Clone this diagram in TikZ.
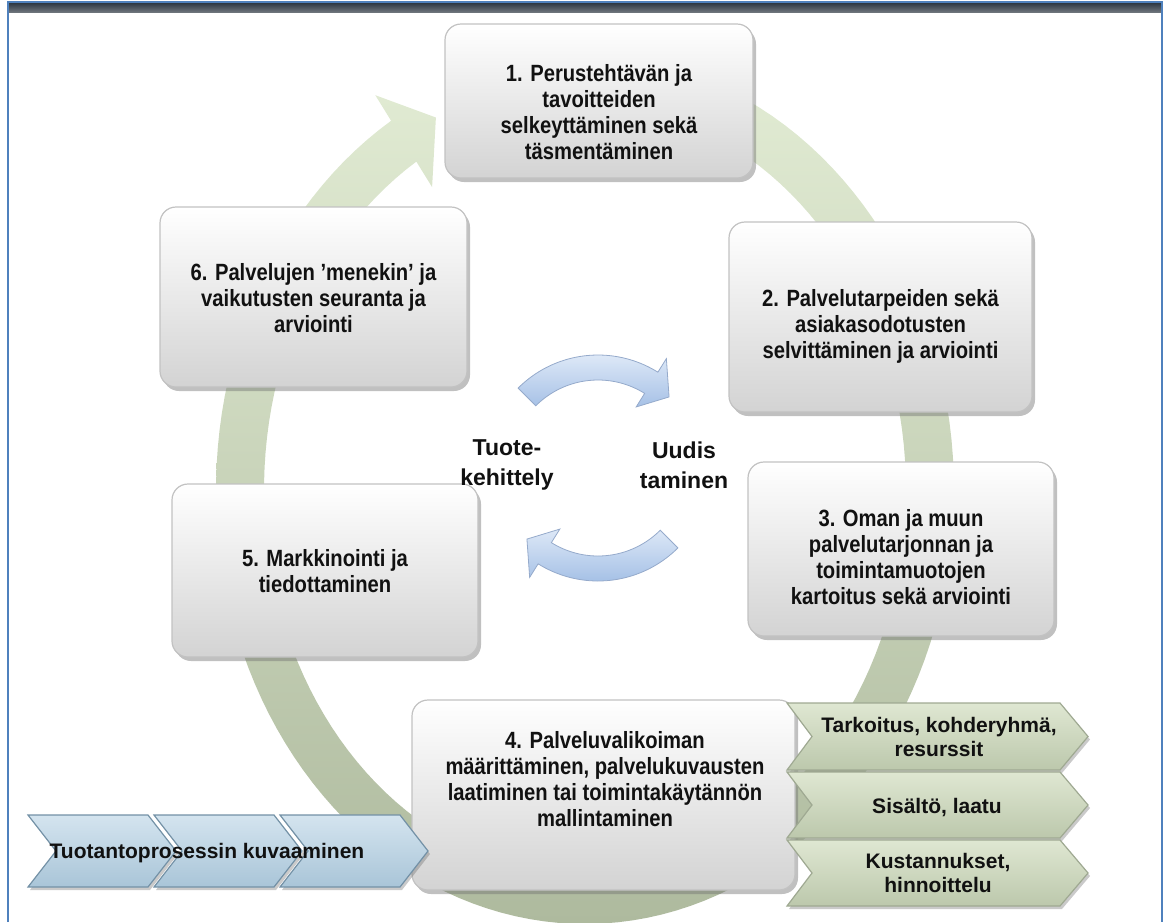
\documentclass[tikz,border=0pt]{standalone}
\usepackage{fontspec}
\setmainfont{Liberation Sans}
\newfontfamily\narrowfont[FakeStretch=0.86]{Liberation Sans}
\usetikzlibrary{shadows}
\definecolor{ringtop}{HTML}{E2ECD4}
\definecolor{ringmid}{HTML}{D3DEC4}
\definecolor{ringbot}{HTML}{AEBA9E}
\definecolor{arrtop}{HTML}{DDE8F7}
\definecolor{arrbot}{HTML}{A6C1E6}
\definecolor{arrline}{HTML}{95AACB}
\definecolor{boxbot}{HTML}{D3D3D3}
\definecolor{boxline}{HTML}{C2C2C2}
\definecolor{bchtop}{HTML}{D4E4EF}
\definecolor{bchbot}{HTML}{A9C5D8}
\definecolor{bchline}{HTML}{7391A6}
\definecolor{gchtop}{HTML}{DFE7D2}
\definecolor{gchbot}{HTML}{BCC8AC}
\definecolor{gchline}{HTML}{9FA992}
\definecolor{frameblue}{HTML}{4F81BD}
\definecolor{framedark}{HTML}{2E3843}
\definecolor{txt}{HTML}{111111}
\begin{document}
\begin{tikzpicture}[x=1pt,y=-1pt,
  box/.style={rounded corners=16pt, draw=boxline, line width=1.2pt,
    top color=white, bottom color=boxbot,
    drop shadow={shadow xshift=3pt, shadow yshift=-4pt, opacity=0.45, fill=black!55}},
  btxt/.style={align=center, inner sep=0pt, text=txt,
    font=\narrowfont\bfseries\fontsize{23.5}{26}\selectfont},
  ctxt/.style={align=center, inner sep=0pt, text=txt,
    font=\bfseries\fontsize{23}{30}\selectfont},
  chtxt/.style={align=center, inner sep=0pt, text=txt,
    font=\bfseries\fontsize{21}{24}\selectfont},
  bchev/.style={draw=bchline, line width=1.2pt, top color=bchtop, bottom color=bchbot,
    drop shadow={shadow xshift=2pt, shadow yshift=-3pt, opacity=0.35, fill=black!60}},
  gchev/.style={draw=gchline, line width=1.2pt, top color=gchtop, bottom color=gchbot,
    drop shadow={shadow xshift=2pt, shadow yshift=-3pt, opacity=0.35, fill=black!60}},
  carrow/.style={draw=arrline, line width=0.8pt, top color=arrtop, bottom color=arrbot}]
\useasboundingbox (0,0) rectangle (1166,922);

% big cycle ring with arrowhead
\shade[top color=ringtop, middle color=ringmid, bottom color=ringbot]
  plot[domain=80:-238.3, samples=140] ({585+369*cos(\x)},{490-434*sin(\x)})
  -- (375.3,95.2) -- (435.9,117.5) -- (432.1,187.1)
  -- plot[domain=-238.3:80, samples=140] ({585+321*cos(\x)},{490-386*sin(\x)}) -- cycle;

% central curved arrows
\shadedraw[carrow]
  plot[domain=135:58, samples=40] ({598+113*cos(\x)},{468-113*sin(\x)})
  -- ({598+129*cos(58)},{468-129*sin(58)})
  -- ({598+100.5*cos(45)},{468-100.5*sin(45)})
  -- ({598+72*cos(58)},{468-72*sin(58)})
  -- plot[domain=58:135, samples=40] ({598+88*cos(\x)},{468-88*sin(\x)}) -- cycle;
\shadedraw[carrow]
  plot[domain=315:238, samples=40] ({598+113*cos(\x)},{468-113*sin(\x)})
  -- ({598+129*cos(238)},{468-129*sin(238)})
  -- ({598+100.5*cos(225)},{468-100.5*sin(225)})
  -- ({598+72*cos(238)},{468-72*sin(238)})
  -- plot[domain=238:315, samples=40] ({598+88*cos(\x)},{468-88*sin(\x)}) -- cycle;

% boxes
\node[box, minimum width=308pt, minimum height=154pt] (b1) at (599,101) {};
\node[btxt] (t1) at (599,112) {1. Perustehtävän ja\\tavoitteiden\\selkeyttäminen sekä\\täsmentäminen};

\node[box, minimum width=303pt, minimum height=190pt] (b2) at (880.5,317) {};
\node[btxt] (t2) at (880.5,326) {2. Palvelutarpeiden sekä\\asiakasodotusten\\selvittäminen ja arviointi};

\node[box, minimum width=306pt, minimum height=174pt] (b3) at (901,549) {};
\node[btxt] (t3) at (901,557) {3. Oman ja muun\\palvelutarjonnan ja\\toimintamuotojen\\kartoitus sekä arviointi};

\node[box, minimum width=306pt, minimum height=173pt] (b5) at (325,570.5) {};
\node[btxt] (t5) at (325,571) {5. Markkinointi ja\\tiedottaminen};

\node[box, minimum width=307pt, minimum height=180pt] (b6) at (313.5,297) {};
\node[btxt] (t6) at (313.5,298) {6. Palvelujen ’menekin’ ja\\vaikutusten seuranta ja\\arviointi};

\node[box, minimum width=383pt, minimum height=190pt] (b4) at (603.5,795) {};
\node[btxt] (t4) at (605,779) {4. Palveluvalikoiman\\määrittäminen, palvelukuvausten\\laatiminen tai toimintakäytännön\\mallintaminen};

% centre labels
\node[ctxt] (tk) at (507,465) {Tuote-\\kehittely};
\node[ctxt] (ut) at (684,465) {Uudis\\taminen};

% green chevrons (right)
\path[gchev] (787,703) -- (1060,703) -- (1088,736.5) -- (1060,770) -- (787,770) -- (812,736.5) -- cycle;
\path[gchev] (787,772) -- (1060,772) -- (1088,805) -- (1060,838) -- (787,838) -- (812,805) -- cycle;
\path[gchev] (787,840) -- (1060,840) -- (1088,873) -- (1060,906) -- (787,906) -- (812,873) -- cycle;
\node[chtxt] (g1) at (939,737) {Tarkoitus, kohderyhmä,\\resurssit};
\node[chtxt] (g2) at (937,807) {Sisältö, laatu};
\node[chtxt] (g3) at (938,873) {Kustannukset,\\hinnoittelu};

% blue chevrons (left)
\path[bchev] (28,815) -- (148,815) -- (176,851) -- (148,887) -- (28,887) -- (56,851) -- cycle;
\path[bchev] (154,815) -- (274,815) -- (302,851) -- (274,887) -- (154,887) -- (182,851) -- cycle;
\path[bchev] (280,815) -- (400,815) -- (428,851) -- (400,887) -- (280,887) -- (308,851) -- cycle;
\node[chtxt] (tp) at (207,853) {Tuotantoprosessin kuvaaminen};

% frame
\shade[top color=framedark, bottom color=framedark!70!white] (8,3) rectangle (1162,12);
\draw[frameblue, line width=2.5pt] (8,922) -- (8,2) -- (1162,2) -- (1162,922);
\end{tikzpicture}
\end{document}
